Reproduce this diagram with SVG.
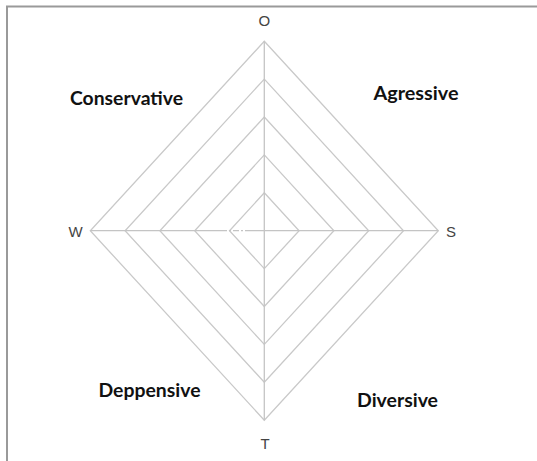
<svg xmlns="http://www.w3.org/2000/svg" width="537" height="461" viewBox="0 0 537 461">
<style>
.grid{fill:none;stroke:#c9c9c9;stroke-width:1.3}
.axis{stroke:#c4c4c4;stroke-width:1.3;fill:none}
.pole{font-family:"Liberation Sans",Arial,sans-serif;font-size:15px;fill:#444444;text-anchor:middle}
.quad{font-family:"Lato","Liberation Sans",Arial,sans-serif;font-size:18px;font-weight:bold;fill:#111111}
</style>
<rect x="0" y="0" width="537" height="461" fill="#ffffff"/>
<path d="M7 470 V6.5 H545" fill="none" stroke="#9a9a9a" stroke-width="2"/>
<g id="grid">
<polygon class="grid" points="264.3,41.2 438.3,230.7 264.3,420.2 90.3,230.7"/>
<polygon class="grid" points="264.3,79.1 403.5,230.7 264.3,382.3 125.1,230.7"/>
<polygon class="grid" points="264.3,117.0 368.7,230.7 264.3,344.4 159.9,230.7"/>
<polygon class="grid" points="264.3,154.9 333.9,230.7 264.3,306.5 194.7,230.7"/>
<polygon class="grid" points="264.3,192.8 299.1,230.7 264.3,268.6 229.5,230.7"/>
</g>
<g id="connectors">
<line class="axis" x1="264.3" y1="41.2" x2="264.3" y2="420.2"/>
<line class="axis" x1="90.3" y1="230.7" x2="221" y2="230.7"/>
<line class="axis" x1="221" y1="230.7" x2="250" y2="230.7" stroke-dasharray="6,2,2,2"/>
<line class="axis" x1="250" y1="230.7" x2="438.3" y2="230.7"/>
</g>
<g id="node-O"><text class="pole" x="264.3" y="26">O</text></g>
<g id="node-W"><text class="pole" x="75.5" y="237">W</text></g>
<g id="node-S"><text class="pole" x="451" y="237">S</text></g>
<g id="node-T"><text class="pole" x="265" y="448.5">T</text></g>
<g id="node-conservative"><text class="quad" x="70" y="104.5" textLength="113" lengthAdjust="spacingAndGlyphs">Conservative</text></g>
<g id="node-agressive"><text class="quad" x="373.5" y="100" textLength="85" lengthAdjust="spacingAndGlyphs">Agressive</text></g>
<g id="node-deppensive"><text class="quad" x="98.5" y="396.5" textLength="102" lengthAdjust="spacingAndGlyphs">Deppensive</text></g>
<g id="node-diversive"><text class="quad" x="357" y="406.5" textLength="81" lengthAdjust="spacingAndGlyphs">Diversive</text></g>
</svg>
